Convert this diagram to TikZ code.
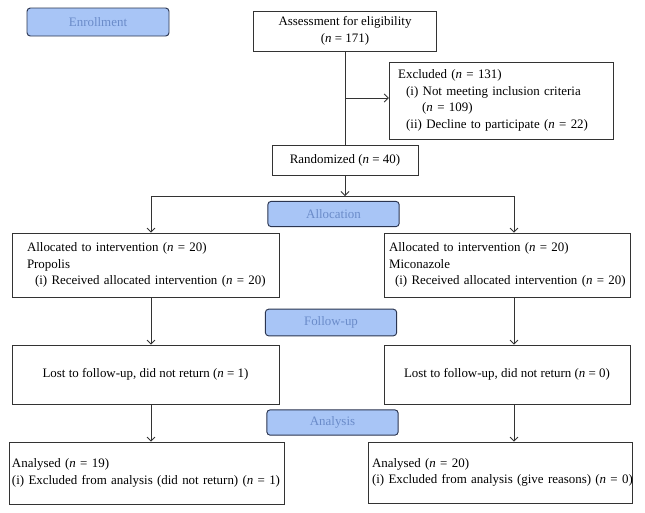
\documentclass[tikz,border=0pt]{standalone}
\usepackage{fontspec}
\setmainfont{Liberation Serif}
\usetikzlibrary{arrows.meta}
\definecolor{stagefill}{HTML}{A8C5F6}
\definecolor{stagetext}{HTML}{6A8BC9}
\definecolor{stageline}{HTML}{2B3550}
\newcommand{\nn}{\textit{n}}

\begin{document}
\begin{tikzpicture}[x=0.75pt, y=-0.75pt, font=\fontsize{9.7}{12.4}\selectfont,
  stage/.style={draw=stageline, fill=stagefill, text=stagetext, rounded corners=2.5pt,
    line width=0.7pt, inner sep=0pt, minimum width=98.5pt, minimum height=19pt},
  flowbox/.style={draw=black!80, line width=0.6pt, inner sep=0pt, align=left},
  flow/.style={draw=black!80, line width=0.6pt, -{Straight Barb[length=3pt, width=6pt]}}]

\useasboundingbox (0,0) rectangle (645,512);

% phases
\node[stage, minimum width=106.5pt, minimum height=21pt] (enrol) at (98,22) {Enrollment};
\node[stage] (alloc) at (333.5,214) {Allocation};
\node[stage, minimum height=20pt] (follow) at (331,322.5) {Follow-up};
\node[stage] (anal) at (332.5,422.5) {Analysis};

% enrollment
\node[flowbox, align=center, minimum width=137pt, minimum height=30pt] (assess) at (345,31)
  {Assessment for eligibility\\(\nn{} = 171)};
\node[flowbox, text width=155pt, inner xsep=6.75pt, minimum height=57.75pt] (excl) at (501.5,100.5)
  {Excluded (\nn{} = 131)\\
   \mbox{\hspace*{6pt}(i) Not meeting inclusion criteria}\\
   \hspace*{18pt}(\nn{} = 109)\\
   \mbox{\hspace*{6pt}(ii) Decline to participate (\nn{} = 22)}};
\node[flowbox, minimum width=109.5pt, minimum height=22.5pt] (rand) at (345,160)
  {Randomized (\nn{} = 40)};

% arms
\node[flowbox, text width=177.75pt, inner xsep=11.25pt, minimum height=48pt] (lalloc) at (145.5,265)
  {Allocated to intervention (\nn{} = 20)\\
   Propolis\\
   \mbox{\hspace*{6pt}(i) Received allocated intervention (\nn{} = 20)}};
\node[flowbox, text width=177pt, inner xsep=3.75pt, minimum height=48pt] (ralloc) at (507,265)
  {Allocated to intervention (\nn{} = 20)\\
   Miconazole\\
   \mbox{\hspace*{4.5pt}(i) Received allocated intervention (\nn{} = 20)}};
\node[flowbox, align=center, minimum width=200.25pt, minimum height=44.25pt] (llost) at (145.5,374.5)
  {Lost to follow-up, did not return (\nn{} = 1)};
\node[flowbox, align=center, minimum width=184.5pt, minimum height=44.25pt] (rlost) at (507,374.5)
  {Lost to follow-up, did not return (\nn{} = 0)};
\node[flowbox, text width=201.75pt, inner xsep=2.25pt, minimum height=46.5pt] (lana) at (146.5,473)
  {Analysed (\nn{} = 19)\\
   \mbox{(i) Excluded from analysis (did not return) (\nn{} = 1)}};
\node[flowbox, text width=192pt, inner xsep=3pt, minimum height=45.75pt] (rana) at (500,472.5)
  {Analysed (\nn{} = 20)\\
   \mbox{(i) Excluded from analysis (give reasons) (\nn{} = 0)}};

% connectors
\coordinate (split) at (345,98);
\coordinate (fork) at (345,196);
\coordinate (lcol) at (151,0);
\coordinate (rcol) at (514,0);

\draw[draw=black!80, line width=0.6pt] (assess) -- (rand);
\draw[flow] (split) -- (split -| excl.west);
\draw[flow] (rand) -- (fork);
\draw[flow] (fork) -| (lcol |- lalloc.north);
\draw[flow] (fork) -| (rcol |- ralloc.north);
\draw[flow] (lcol |- lalloc.south) -- (lcol |- llost.north);
\draw[flow] (rcol |- ralloc.south) -- (rcol |- rlost.north);
\draw[flow] (lcol |- llost.south) -- (lcol |- lana.north);
\draw[flow] (rcol |- rlost.south) -- (rcol |- rana.north);

\end{tikzpicture}
\end{document}
